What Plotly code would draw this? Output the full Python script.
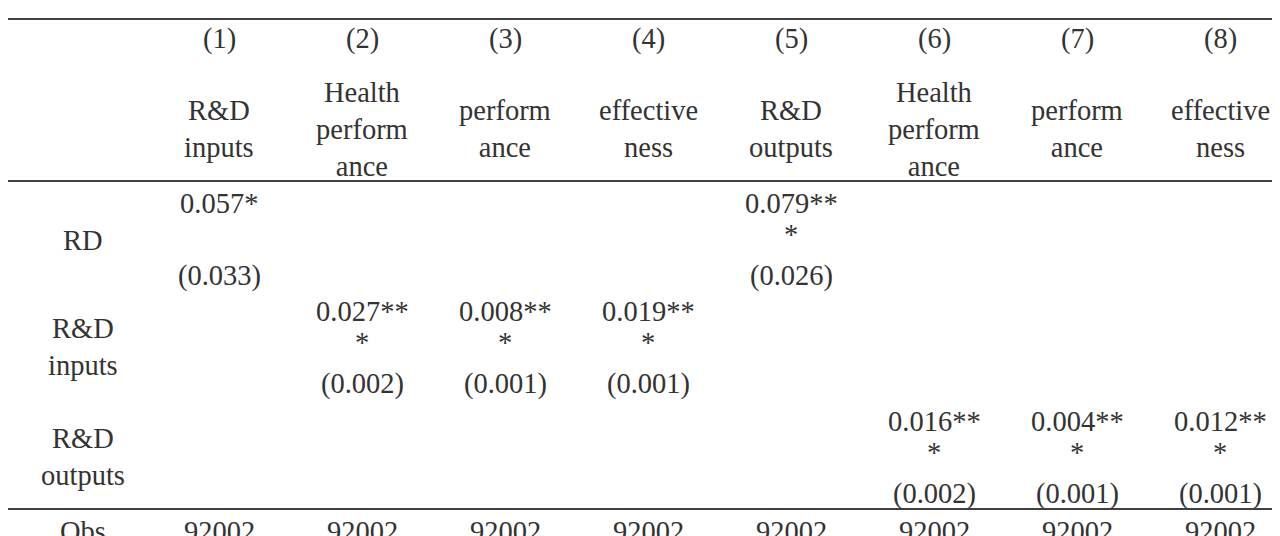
import plotly.graph_objects as go

columns = ["(1)", "(2)", "(3)", "(4)", "(5)", "(6)", "(7)", "(8)"]
dep_vars = ["R&D<br>inputs", "Health<br>perform<br>ance", "perform<br>ance", "effective<br>ness",
            "R&D<br>outputs", "Health<br>perform<br>ance", "perform<br>ance", "effective<br>ness"]
row_labels = ["RD", "R&D<br>inputs", "R&D<br>outputs"]
# (row index, column index, coefficient, star overflow, standard error)
cells = [
    (0, 0, "0.057*", "", "(0.033)"),
    (0, 4, "0.079**", "*", "(0.026)"),
    (1, 1, "0.027**", "*", "(0.002)"),
    (1, 2, "0.008**", "*", "(0.001)"),
    (1, 3, "0.019**", "*", "(0.001)"),
    (2, 5, "0.016**", "*", "(0.002)"),
    (2, 6, "0.004**", "*", "(0.001)"),
    (2, 7, "0.012**", "*", "(0.001)"),
]
obs = ["92002"] * 8

FONT = dict(family="Liberation Serif", size=28.5, color="#333333")
col_x = [203 + 143.0 * i for i in range(8)]
label_x = 67
row_top = [187, 295, 405]
row_label_y = [224, 331, 441]
OFF = 8  # page body margin compensation

ann = []
def add(x, y, t):
    ann.append(dict(x=x, y=y, text=t, showarrow=False, xref="x", yref="y",
                    xanchor="center", yanchor="middle", font=FONT))

for i, c in enumerate(columns):
    add(col_x[i], 23, c)
    add(col_x[i], 113, dep_vars[i])
for r, lab in enumerate(row_labels):
    add(label_x, row_label_y[r], lab)
for r, c, coef, star, se in cells:
    add(col_x[c], row_top[r], coef)
    if star:
        add(col_x[c], row_top[r] + 31, star)
    add(col_x[c], row_top[r] + 73, se)
add(label_x, 515, "Obs")
for i, o in enumerate(obs):
    add(col_x[i], 515, o)

shapes = []
for y in [3, 165, 493, 533]:
    shapes.append(dict(type="line", x0=-OFF, x1=1280, y0=y, y1=y, xref="x", yref="y",
                       line=dict(color="black", width=1.5)))

fig = go.Figure()
fig.update_layout(width=1280, height=536, margin=dict(l=0, r=0, t=0, b=0),
                  paper_bgcolor="white", plot_bgcolor="white",
                  xaxis=dict(range=[-OFF, 1280 - OFF], visible=False, fixedrange=True),
                  yaxis=dict(range=[536 - OFF, -OFF], visible=False, fixedrange=True),
                  annotations=ann, shapes=shapes, showlegend=False)
fig.write_html("out.html", config={"displayModeBar": False})
